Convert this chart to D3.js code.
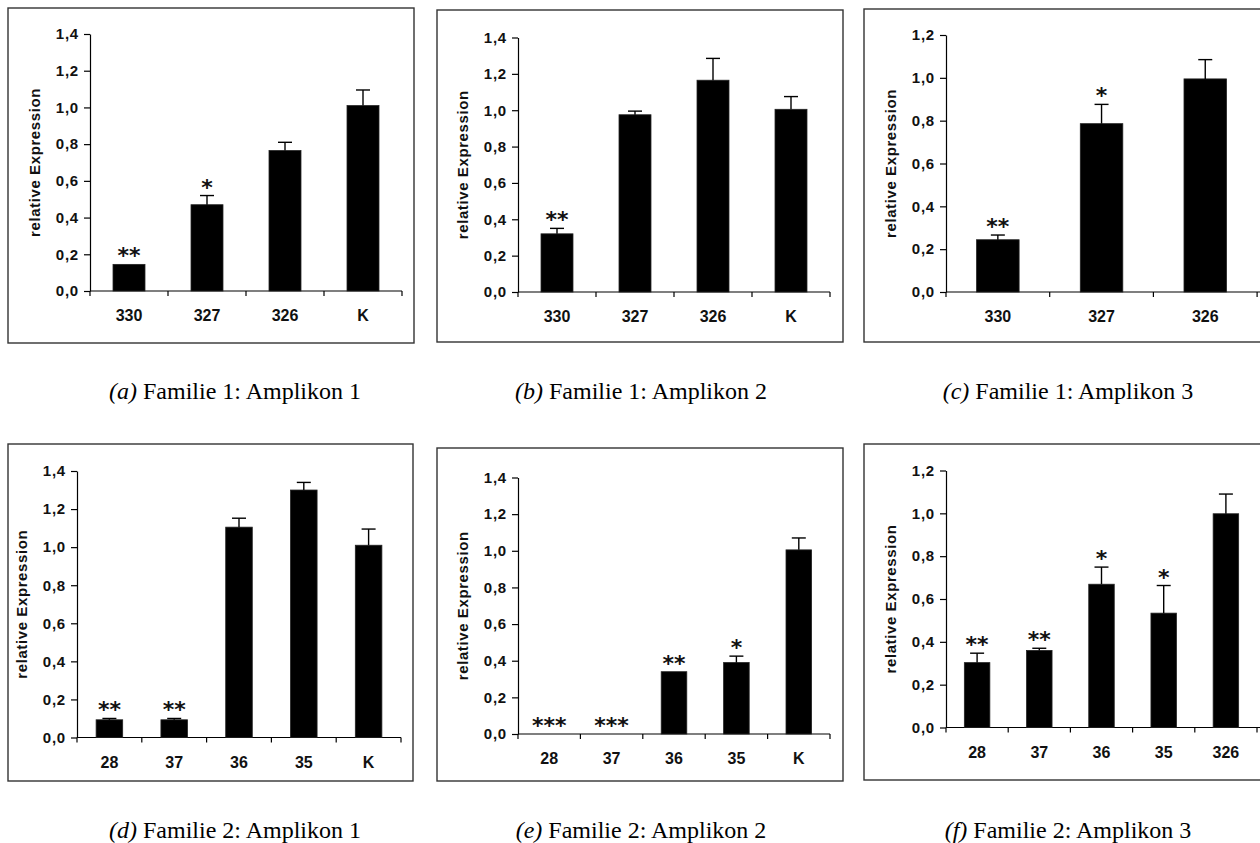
<!DOCTYPE html>
<html>
<head>
<meta charset="utf-8">
<script src="https://cdn.jsdelivr.net/npm/d3@7"></script>
<style>
  body { margin: 0; background: #fff; }
  svg { display: block; }
</style>
</head>
<body>
<div id="chart"></div>
<script>
// relative Expression, Familie 1 / Familie 2, Amplikon 1-3

// Familie 1
const catsA = ["330", "327", "326", "K"];
const valsA = [0.145, 0.47, 0.765, 1.01];
const errsA = [0, 0.05, 0.045, 0.085];
const starsA = ["**", "*", "", ""];

const catsB = ["330", "327", "326", "K"];
const valsB = [0.32, 0.975, 1.165, 1.005];
const errsB = [0.03, 0.02, 0.12, 0.07];
const starsB = ["**", "", "", ""];

const catsC = ["330", "327", "326"];
const valsC = [0.244, 0.786, 0.995];
const errsC = [0.022, 0.09, 0.09];
const starsC = ["**", "*", ""];

// Familie 2
const catsD = ["28", "37", "36", "35", "K"];
const valsD = [0.093, 0.093, 1.105, 1.30, 1.01];
const errsD = [0.007, 0.007, 0.047, 0.04, 0.085];
const starsD = ["**", "**", "", "", ""];

const catsE = ["28", "37", "36", "35", "K"];
const valsE = [0, 0, 0.34, 0.39, 1.005];
const errsE = [0, 0, 0, 0.035, 0.065];
const starsE = ["***", "***", "**", "*", ""];

const catsF = ["28", "37", "36", "35", "326"];
const valsF = [0.303, 0.36, 0.669, 0.534, 0.998];
const errsF = [0.044, 0.01, 0.08, 0.129, 0.092];
const starsF = ["**", "**", "*", "*", ""];

const ticks14 = [0, 0.2, 0.4, 0.6, 0.8, 1.0, 1.2, 1.4];
const ticks12 = [0, 0.2, 0.4, 0.6, 0.8, 1.0, 1.2];

const captions = [
    ["(a)", "Familie 1: Amplikon 1"],
    ["(b)", "Familie 1: Amplikon 2"],
    ["(c)", "Familie 1: Amplikon 3"],
    ["(d)", "Familie 2: Amplikon 1"],
    ["(e)", "Familie 2: Amplikon 2"],
    ["(f)", "Familie 2: Amplikon 3"]
];

// layout of each panel (box + plot area), in page pixels
const panels = [
    {cats: catsA, vals: valsA, errs: errsA, stars: starsA, ticks: ticks14,
     box: [8, 8, 406, 335], x0: 90, y0: 291, yTop: 34, band: 78, capX: 235, capY: 399},
    {cats: catsB, vals: valsB, errs: errsB, stars: starsB, ticks: ticks14,
     box: [437, 10, 406, 332], x0: 518, y0: 292, yTop: 37.5, band: 78, capX: 641, capY: 399},
    {cats: catsC, vals: valsC, errs: errsC, stars: starsC, ticks: ticks12,
     box: [864, 9, 430, 333], x0: 946, y0: 292, yTop: 35, band: 103.7, capX: 1068, capY: 399, axisEnd: 1262},
    {cats: catsD, vals: valsD, errs: errsD, stars: starsD, ticks: ticks14,
     box: [8, 444, 405, 337], x0: 77, y0: 737.5, yTop: 471, band: 64.8, capX: 235, capY: 838},
    {cats: catsE, vals: valsE, errs: errsE, stars: starsE, ticks: ticks14,
     box: [437, 448, 406, 333], x0: 518, y0: 734, yTop: 477.5, band: 62.4, capX: 641, capY: 838},
    {cats: catsF, vals: valsF, errs: errsF, stars: starsF, ticks: ticks12,
     box: [864, 444, 430, 336], x0: 946, y0: 727.5, yTop: 470.5, band: 62.2, capX: 1068, capY: 838, axisEnd: 1262}
];

const W = 1260, H = 843;
const sans = "'Liberation Sans', Arial, sans-serif";
const comma = d3.formatLocale({decimal: ",", thousands: ".", grouping: [3], currency: ["", ""]}).format(".1f");

const svg = d3.select("#chart").append("svg")
    .attr("width", W)
    .attr("height", H);

function draw_panel(p, i) {
    let g = svg.append("g");

    // frame
    g.append("rect")
        .attr("x", p.box[0])
        .attr("y", p.box[1])
        .attr("width", p.box[2])
        .attr("height", p.box[3])
        .attr("fill", "none")
        .attr("stroke", "#333")
        .attr("stroke-width", 1.4);

    let xEnd = p.x0 + p.band * p.cats.length;
    let xScale = d3.scaleBand()
        .domain(p.cats)
        .range([p.x0, xEnd])
        .padding(0);
    let yScale = d3.scaleLinear()
        .domain([0, d3.max(p.ticks)])
        .range([p.y0, p.yTop]);

    // y axis
    let yAxis = d3.axisLeft(yScale)
        .tickValues(p.ticks)
        .tickSize(6)
        .tickSizeOuter(0)
        .tickPadding(5)
        .tickFormat(comma);
    let ya = g.append("g")
        .attr("transform", "translate(" + p.x0 + ",0)")
        .call(yAxis);
    ya.select(".domain").attr("stroke", "#000").attr("stroke-width", 1.2);
    ya.selectAll(".tick line").attr("stroke", "#000").attr("stroke-width", 1.2);
    ya.selectAll(".tick text")
        .attr("fill", "#111")
        .style("font-family", sans)
        .style("font-weight", "bold")
        .style("font-size", "15px")
        .style("letter-spacing", "0.8px");

    // x axis: line, boundary ticks, labels at band centres
    let lineEnd = p.axisEnd || xEnd;
    g.append("line")
        .attr("x1", p.x0).attr("x2", lineEnd)
        .attr("y1", p.y0).attr("y2", p.y0)
        .attr("stroke", "#000").attr("stroke-width", 1.2);
    let bounds = p.cats.map(c => xScale(c)).concat([xEnd]);
    g.selectAll(".xtick").data(bounds).enter().append("line")
        .attr("class", "xtick")
        .attr("x1", d => d).attr("x2", d => d)
        .attr("y1", p.y0).attr("y2", p.y0 + 5)
        .attr("stroke", "#000").attr("stroke-width", 1.2);
    let xAxis = d3.axisBottom(xScale).tickSize(0).tickPadding(0);
    let xa = g.append("g")
        .attr("transform", "translate(0," + p.y0 + ")")
        .call(xAxis);
    xa.select(".domain").remove();
    xa.selectAll(".tick text")
        .attr("dy", 0)
        .attr("y", 30)
        .attr("fill", "#111")
        .style("font-family", sans)
        .style("font-weight", "bold")
        .style("font-size", "16px");

    // y title
    g.append("text")
        .attr("transform", "translate(" + (p.x0 - 50) + "," + ((p.y0 + p.yTop) / 2) + ") rotate(-90)")
        .attr("text-anchor", "middle")
        .attr("fill", "#111")
        .style("font-family", sans)
        .style("font-weight", "bold")
        .style("font-size", "15px")
        .style("letter-spacing", "0.6px")
        .text("relative Expression");

    let rows = p.cats.map((c, k) => ({cat: c, v: p.vals[k], e: p.errs[k], s: p.stars[k]}));
    let bw = xScale.bandwidth() * 0.41;

    // bars
    g.selectAll(".bar").data(rows.filter(d => d.v > 0)).enter().append("rect")
        .attr("class", "bar")
        .attr("x", d => xScale(d.cat) + (xScale.bandwidth() - bw) / 2)
        .attr("y", d => yScale(d.v))
        .attr("width", bw)
        .attr("height", d => p.y0 - yScale(d.v))
        .attr("fill", "#000")
        .attr("stroke", "#222")
        .attr("stroke-width", 0.8);

    // error bars (upper only)
    let withErr = rows.filter(d => d.e > 0);
    g.selectAll(".err").data(withErr).enter().append("line")
        .attr("class", "err")
        .attr("x1", d => xScale(d.cat) + xScale.bandwidth() / 2)
        .attr("x2", d => xScale(d.cat) + xScale.bandwidth() / 2)
        .attr("y1", d => yScale(d.v))
        .attr("y2", d => yScale(d.v + d.e))
        .attr("stroke", "#000").attr("stroke-width", 1.4);
    g.selectAll(".cap").data(withErr).enter().append("line")
        .attr("class", "cap")
        .attr("x1", d => xScale(d.cat) + xScale.bandwidth() / 2 - 7)
        .attr("x2", d => xScale(d.cat) + xScale.bandwidth() / 2 + 7)
        .attr("y1", d => yScale(d.v + d.e))
        .attr("y2", d => yScale(d.v + d.e))
        .attr("stroke", "#000").attr("stroke-width", 1.4);

    // significance stars
    g.selectAll(".star").data(rows.filter(d => d.s)).enter().append("text")
        .attr("class", "star")
        .attr("x", d => xScale(d.cat) + xScale.bandwidth() / 2)
        .attr("y", d => yScale(d.v + d.e) - 1)
        .attr("text-anchor", "middle")
        .attr("fill", "#111")
        .style("font-family", "'DejaVu Sans', sans-serif")
        .style("font-weight", "bold")
        .style("font-size", "22px")
        .text(d => d.s);

    // caption
    let cap = svg.append("text")
        .attr("x", p.capX)
        .attr("y", p.capY)
        .attr("text-anchor", "middle")
        .attr("fill", "#000")
        .style("font-family", "'Liberation Serif', 'Times New Roman', serif")
        .style("font-size", "24px");
    cap.append("tspan").style("font-style", "italic").text(captions[i][0]);
    cap.append("tspan").text(" " + captions[i][1]);
}

panels.forEach(draw_panel);
</script>
</body>
</html>
